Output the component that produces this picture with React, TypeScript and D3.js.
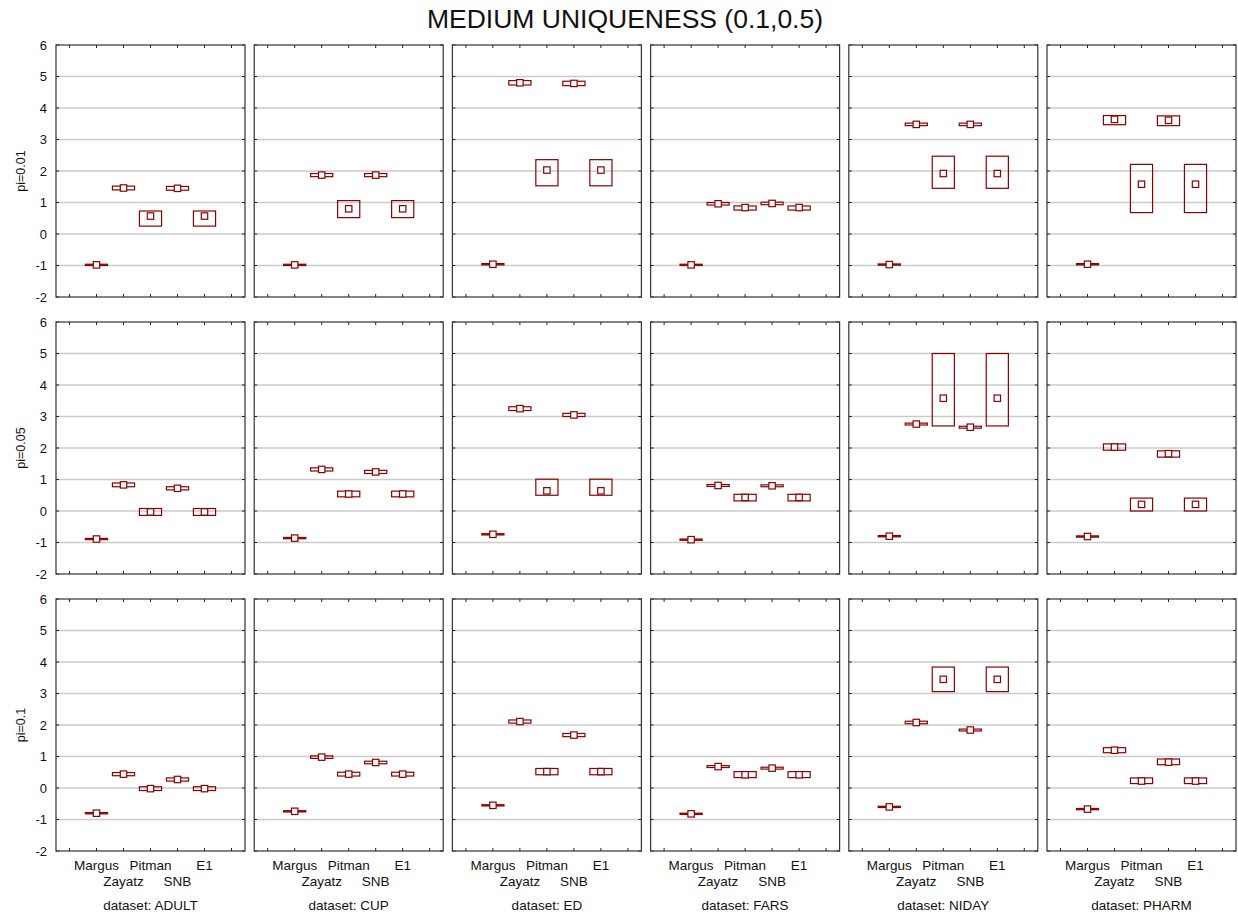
import React from "react";
import * as d3 from "d3";

const datasets = ["ADULT", "CUP", "ED", "FARS", "NIDAY", "PHARM"];
const piLevels = ["pi=0.01", "pi=0.05", "pi=0.1"];
const methods = ["Margus", "Zayatz", "Pitman", "SNB", "E1"];
const yTicks = [-2, -1, 0, 1, 2, 3, 4, 5, 6];
const xTicks = [0, 1, 2, 3, 4, 5, 6];

// pi = 0.01 : rows = datasets, cols = methods
const mean001 = [
  [-0.98, 1.46, 0.57, 1.45, 0.57],
  [-0.98, 1.87, 0.8, 1.87, 0.8],
  [-0.96, 4.8, 2.03, 4.78, 2.03],
  [-0.98, 0.96, 0.84, 0.97, 0.84],
  [-0.97, 3.48, 1.92, 3.48, 1.92],
  [-0.96, 3.64, 1.58, 3.61, 1.58],
];
const low001 = [
  [-1.0, 1.4, 0.25, 1.39, 0.25],
  [-1.0, 1.82, 0.52, 1.82, 0.52],
  [-0.98, 4.73, 1.53, 4.71, 1.53],
  [-1.0, 0.92, 0.76, 0.93, 0.76],
  [-0.99, 3.44, 1.45, 3.44, 1.45],
  [-0.98, 3.47, 0.68, 3.44, 0.68],
];
const high001 = [
  [-0.96, 1.52, 0.73, 1.51, 0.73],
  [-0.96, 1.92, 1.06, 1.92, 1.06],
  [-0.94, 4.87, 2.36, 4.85, 2.36],
  [-0.96, 1.0, 0.89, 1.01, 0.89],
  [-0.95, 3.52, 2.47, 3.52, 2.47],
  [-0.94, 3.76, 2.21, 3.75, 2.21],
];

// pi = 0.05
const mean005 = [
  [-0.89, 0.83, -0.03, 0.72, -0.03],
  [-0.86, 1.32, 0.54, 1.24, 0.54],
  [-0.74, 3.25, 0.64, 3.05, 0.64],
  [-0.91, 0.81, 0.43, 0.8, 0.43],
  [-0.8, 2.76, 3.58, 2.66, 3.58],
  [-0.81, 2.03, 0.21, 1.82, 0.21],
];
const low005 = [
  [-0.91, 0.77, -0.14, 0.67, -0.14],
  [-0.88, 1.27, 0.45, 1.19, 0.45],
  [-0.76, 3.19, 0.5, 3.0, 0.5],
  [-0.93, 0.78, 0.32, 0.77, 0.32],
  [-0.82, 2.73, 2.7, 2.63, 2.7],
  [-0.83, 1.93, 0.0, 1.71, 0.0],
];
const high005 = [
  [-0.87, 0.89, 0.08, 0.77, 0.08],
  [-0.84, 1.37, 0.63, 1.29, 0.63],
  [-0.72, 3.31, 1.01, 3.1, 1.01],
  [-0.89, 0.84, 0.53, 0.83, 0.53],
  [-0.78, 2.79, 5.0, 2.69, 5.0],
  [-0.79, 2.13, 0.41, 1.91, 0.41],
];

// pi = 0.1
const mean01 = [
  [-0.8, 0.44, -0.02, 0.27, -0.02],
  [-0.74, 0.98, 0.44, 0.81, 0.44],
  [-0.55, 2.11, 0.52, 1.68, 0.52],
  [-0.82, 0.68, 0.42, 0.63, 0.42],
  [-0.6, 2.08, 3.45, 1.84, 3.45],
  [-0.67, 1.2, 0.22, 0.82, 0.22],
];
const low01 = [
  [-0.82, 0.39, -0.08, 0.22, -0.08],
  [-0.76, 0.94, 0.38, 0.77, 0.38],
  [-0.57, 2.06, 0.42, 1.63, 0.42],
  [-0.84, 0.65, 0.33, 0.6, 0.33],
  [-0.62, 2.04, 3.06, 1.81, 3.06],
  [-0.69, 1.12, 0.14, 0.74, 0.14],
];
const high01 = [
  [-0.78, 0.49, 0.04, 0.32, 0.04],
  [-0.72, 1.02, 0.5, 0.85, 0.5],
  [-0.53, 2.16, 0.62, 1.73, 0.62],
  [-0.8, 0.71, 0.52, 0.66, 0.52],
  [-0.58, 2.12, 3.84, 1.87, 3.84],
  [-0.65, 1.28, 0.32, 0.92, 0.32],
];

const means = [mean001, mean005, mean01];
const lows = [low001, low005, low01];
const highs = [high001, high005, high01];

const W = 1238;
const H = 918;
const panelLeft0 = 56;
const panelStride = 198.2;
const panelW = 189;
const panelTop0 = 45;
const rowStride = 277;
const panelH = 252;
const RED = "#8b0000";
const FONT = "'Liberation Sans', Arial, sans-serif";

const x = d3.scaleLinear().domain([-0.5, 6.5]).range([0, panelW]);
const y = d3.scaleLinear().domain([-2, 6]).range([panelH, 0]);
const boxHalf = 0.41;
const sq = 3.2;

function Panel({ r, c }: { r: number; c: number }) {
  const left = panelLeft0 + c * panelStride;
  const top = panelTop0 + r * rowStride;
  const m = means[r][c];
  const lo = lows[r][c];
  const hi = highs[r][c];
  return (
    <g transform={`translate(${left},${top})`}>
      {yTicks
        .filter((t) => t > -2 && t < 6)
        .map((t) => (
          <line key={"g" + t} x1={0} x2={panelW} y1={y(t)} y2={y(t)} stroke="#cbcbcb" strokeWidth={1.3} />
        ))}
      {yTicks.map((t) => (
        <g key={"yt" + t}>
          <line x1={0} x2={3} y1={y(t)} y2={y(t)} stroke="#222" />
          <line x1={panelW - 3} x2={panelW} y1={y(t)} y2={y(t)} stroke="#222" />
        </g>
      ))}
      {xTicks.map((t) => (
        <g key={"xt" + t}>
          <line x1={x(t)} x2={x(t)} y1={0} y2={3} stroke="#222" />
          <line x1={x(t)} x2={x(t)} y1={panelH - 3} y2={panelH} stroke="#222" />
        </g>
      ))}
      <rect x={0} y={0} width={panelW} height={panelH} fill="none" stroke="#333" strokeWidth={1.2} />
      {methods.map((name, i) => {
        const cx = x(i + 1);
        const yTop = y(hi[i]);
        const yBot = y(lo[i]);
        return (
          <g key={name}>
            <rect
              x={x(i + 1 - boxHalf)}
              y={yTop}
              width={x(i + 1 + boxHalf) - x(i + 1 - boxHalf)}
              height={Math.max(yBot - yTop, 0.5)}
              fill="none"
              stroke={RED}
              strokeWidth={1.2}
            />
            <rect x={cx - sq} y={y(m[i]) - sq} width={sq * 2} height={sq * 2} fill="#fff" stroke={RED} strokeWidth={1.2} />
          </g>
        );
      })}
      {c === 0 &&
        yTicks.map((t) => (
          <text key={"yl" + t} x={-9} y={y(t)} dy="0.35em" textAnchor="end" fontSize={13} fontFamily={FONT} fill="#111">
            {t}
          </text>
        ))}
      {c === 0 && (
        <text
          transform={`translate(-31,${panelH / 2}) rotate(-90)`}
          textAnchor="middle"
          fontSize={12.5}
          fontFamily={FONT}
          fill="#111"
        >
          {piLevels[r]}
        </text>
      )}
      {r === 2 &&
        methods.map((name, i) => (
          <text
            key={"ml" + name}
            x={x(i + 1)}
            y={panelH + (i % 2 === 0 ? 19 : 35)}
            textAnchor="middle"
            fontSize={13.5}
            fontFamily={FONT}
            fill="#111"
          >
            {name}
          </text>
        ))}
      {r === 2 && (
        <text x={panelW / 2} y={panelH + 59} textAnchor="middle" fontSize={13.5} fontFamily={FONT} fill="#111">
          {"dataset: " + datasets[c]}
        </text>
      )}
    </g>
  );
}

export default function App() {
  return (
    <svg
      width={W}
      height={H}
      style={{ position: "absolute", left: 0, top: 0, background: "#fff" }}
      xmlns="http://www.w3.org/2000/svg"
    >
      <rect x={0} y={0} width={W} height={H} fill="#fff" />
      <text x={625} y={28} textAnchor="middle" fontSize={26.5} fontFamily={FONT} fill="#111">
        MEDIUM UNIQUENESS (0.1,0.5)
      </text>
      {piLevels.map((_, r) =>
        datasets.map((__, c) => <Panel key={`${r}-${c}`} r={r} c={c} />)
      )}
    </svg>
  );
}
